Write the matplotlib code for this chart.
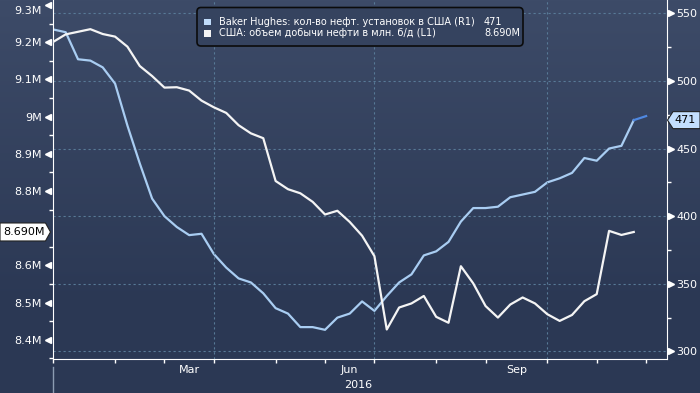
import numpy as np
import matplotlib
matplotlib.use('Agg')
import matplotlib.pyplot as plt
from matplotlib.patches import Polygon, FancyBboxPatch, Rectangle
from matplotlib.lines import Line2D
from matplotlib.transforms import IdentityTransform, ScaledTranslation, blended_transform_factory

# weekly values, week 0 = last week of Dec 2015
rigs = [538, 536, 516, 515, 510, 498, 467, 439, 413, 400,
        392, 386, 387, 372, 362, 354, 351, 343, 332, 328,
        318, 318, 316, 325, 328, 337, 330, 341, 351, 357,
        371, 374, 381, 396, 406, 406, 407, 414, 416, 418,
        425, 428, 432, 443, 441, 450, 452, 471, 474]
production = [9.201, 9.221, 9.228, 9.235, 9.222, 9.215, 9.188, 9.136, 9.109, 9.078,
              9.079, 9.070, 9.043, 9.025, 9.010, 8.977, 8.955, 8.942, 8.827, 8.805,
              8.794, 8.771, 8.737, 8.747, 8.717, 8.680, 8.625, 8.428, 8.487, 8.498,
              8.518, 8.462, 8.446, 8.598, 8.552, 8.491, 8.460, 8.495, 8.514, 8.498,
              8.469, 8.451, 8.467, 8.504, 8.523, 8.693, 8.682, 8.690]
rig_last = 471
prod_last = '8.690M'

# 8.7M sits under the last-value tag, so it is not labelled
left_ticks = [8.4, 8.5, 8.6, 8.8, 8.9, 9.0, 9.1, 9.2, 9.3]
left_labels = ['8.4M', '8.5M', '8.6M', '8.8M', '8.9M', '9M', '9.1M', '9.2M', '9.3M']
right_ticks = [300, 350, 400, 450, 500, 550]
month_ticks = [0, 5, 9, 13, 18, 22, 26, 31, 35, 40, 44, 48]
quarter_lines = [13, 26, 40]
month_label_pos = [11, 24, 37.5]
month_labels = ['Mar', 'Jun', 'Sep']

rig_label = 'Baker Hughes: кол-во нефт. установок в США (R1)'
prod_label = 'США: объем добычи нефти в млн. б/д (L1)'

W, H = 700, 393
fig = plt.figure(figsize=(7, 3.93), dpi=100)
fig.patch.set_facecolor('#2c3955')

# background gradient
bg = fig.add_axes([0, 0, 1, 1], zorder=-5)
top = np.array([61, 75, 104]) / 255
bot = np.array([43, 56, 84]) / 255
rows = np.linspace(0, 1, H)
t = np.clip(rows / 0.78, 0, 1)
grad = (top[None, :] * (1 - t[:, None]) + bot[None, :] * t[:, None])[:, None, :]
bg.imshow(grad, aspect='auto', extent=[0, 1, 0, 1])
bg.axis('off')

ax = fig.add_axes([52.7 / W, 34.5 / H, 613.8 / W, 358.5 / H])
ax.set_facecolor('none')
ax2 = ax.twinx()
ax2.set_facecolor('none')
ax.set_zorder(2)
ax2.set_zorder(1)

weeks = np.arange(len(rigs))
ax.set_xlim(-0.05, 49.65)
ax.set_ylim(8.351, 9.3134)
ax2.set_ylim(294.8, 559.8)

grid_kw = dict(color='#587a97', lw=0.8, linestyle=(0, (2, 2.5)))
for q in quarter_lines:
    ax.axvline(q, **grid_kw, zorder=0)
for r in right_ticks:
    ax2.axhline(r, **grid_kw, zorder=0)

ax2.plot(weeks[:-1], rigs[:-1], color='#a9cdf2', lw=1.6, zorder=3)
ax2.plot(weeks[-2:], rigs[-2:], color='#4f88e0', lw=1.6, zorder=3)
ax.plot(np.arange(len(production)), production, color='#f4f4f4', lw=1.6, zorder=3)

# spines
for s in ['top', 'right']:
    ax.spines[s].set_visible(False)
for s in ['left', 'bottom']:
    ax.spines[s].set_color('white')
for s in ['top', 'left', 'bottom']:
    ax2.spines[s].set_visible(False)
ax2.spines['right'].set_color('white')

# left axis ticks
ax.set_yticks(left_ticks, left_labels)
ax.set_yticks(np.arange(8.35, 9.3, 0.1), minor=True)
ax.tick_params(axis='y', which='major', length=0, pad=7.9, labelsize=8, labelcolor='white')
ax.tick_params(axis='y', which='minor', length=3, width=1, color='white')
tr_l = blended_transform_factory(ax.transAxes, ax.transData)
ax.plot([-5.0 / 613.8] * len(left_ticks), left_ticks, ls='none', marker='<', ms=4.2,
        color='white', transform=tr_l, clip_on=False)
# top label is nudged down to stay inside the figure
top_lbl = ax.yaxis.get_major_ticks()[-1].label1
top_lbl.set_transform(top_lbl.get_transform() + ScaledTranslation(0, -0.05, fig.dpi_scale_trans))

# right axis ticks
ax2.set_yticks(right_ticks, [str(v) for v in right_ticks])
ax2.set_yticks(np.arange(325, 550, 50), minor=True)
ax2.tick_params(axis='y', which='major', length=0, pad=6.8, labelsize=8, labelcolor='white')
ax2.tick_params(axis='y', which='minor', length=3, width=1, color='white')
tr_r = blended_transform_factory(ax2.transAxes, ax2.transData)
ax2.plot([1 + 4.2 / 613.8] * len(right_ticks), right_ticks, ls='none', marker='>', ms=4.2,
         color='white', transform=tr_r, clip_on=False)

# x axis
ax.set_xticks(month_ticks, [''] * len(month_ticks))
ax.set_xticks(month_label_pos, month_labels, minor=True)
ax.tick_params(axis='x', which='major', length=3, width=1, color='white')
ax.tick_params(axis='x', which='minor', length=0, pad=5, labelsize=8, labelcolor='white')

idt = IdentityTransform()
fig.text(358.6, H - 385, '2016', color='white', fontsize=8, ha='center', va='center', transform=idt)
fig.add_artist(Line2D([53, 53], [H - 367, 0], color='#8c9cb2', lw=1, transform=idt))

# last value tags
fig.canvas.draw()
yc = ax.transData.transform((0, 8.690))[1]
fig.add_artist(Polygon([(0, yc - 9), (45.5, yc - 9), (50.5, yc), (45.5, yc + 9), (0, yc + 9)],
                       closed=True, fc='white', ec='#222222', lw=0.8, transform=idt, zorder=5))
fig.text(24, yc, prod_last, color='black', fontsize=8, ha='center', va='center',
         transform=idt, zorder=6)
yr = ax2.transData.transform((0, rig_last))[1]
fig.add_artist(Polygon([(700, yr - 8.5), (673, yr - 8.5), (667.5, yr), (673, yr + 8.5), (700, yr + 8.5)],
                       closed=True, fc='#c4dffd', ec='#222222', lw=0.8, transform=idt, zorder=5))
fig.text(685, yr, str(rig_last), color='black', fontsize=8, ha='center', va='center',
         transform=idt, zorder=6)

# legend
fig.add_artist(FancyBboxPatch((197, H - 46), 326, 38.5, boxstyle='round,pad=0,rounding_size=4',
                              fc='#35435f', ec='#0b0b0b', lw=1.2, transform=idt, zorder=5))
fig.add_artist(Rectangle((204, H - 25.3), 6.5, 6.5, fc='#c0dcfb', ec='none', transform=idt, zorder=6))
fig.add_artist(Rectangle((204, H - 36.8), 6.5, 6.5, fc='#f4f4f4', ec='none', transform=idt, zorder=6))
fig.text(219, H - 21.7, rig_label, color='white', fontsize=7, va='center', transform=idt, zorder=6)
fig.text(219, H - 33.3, prod_label, color='white', fontsize=7, va='center', transform=idt, zorder=6)
fig.text(484, H - 21.7, str(rig_last), color='white', fontsize=7, va='center', transform=idt, zorder=6)
fig.text(484, H - 33.3, prod_last, color='white', fontsize=7, va='center', transform=idt, zorder=6)

fig.savefig('out.png', dpi=100)
